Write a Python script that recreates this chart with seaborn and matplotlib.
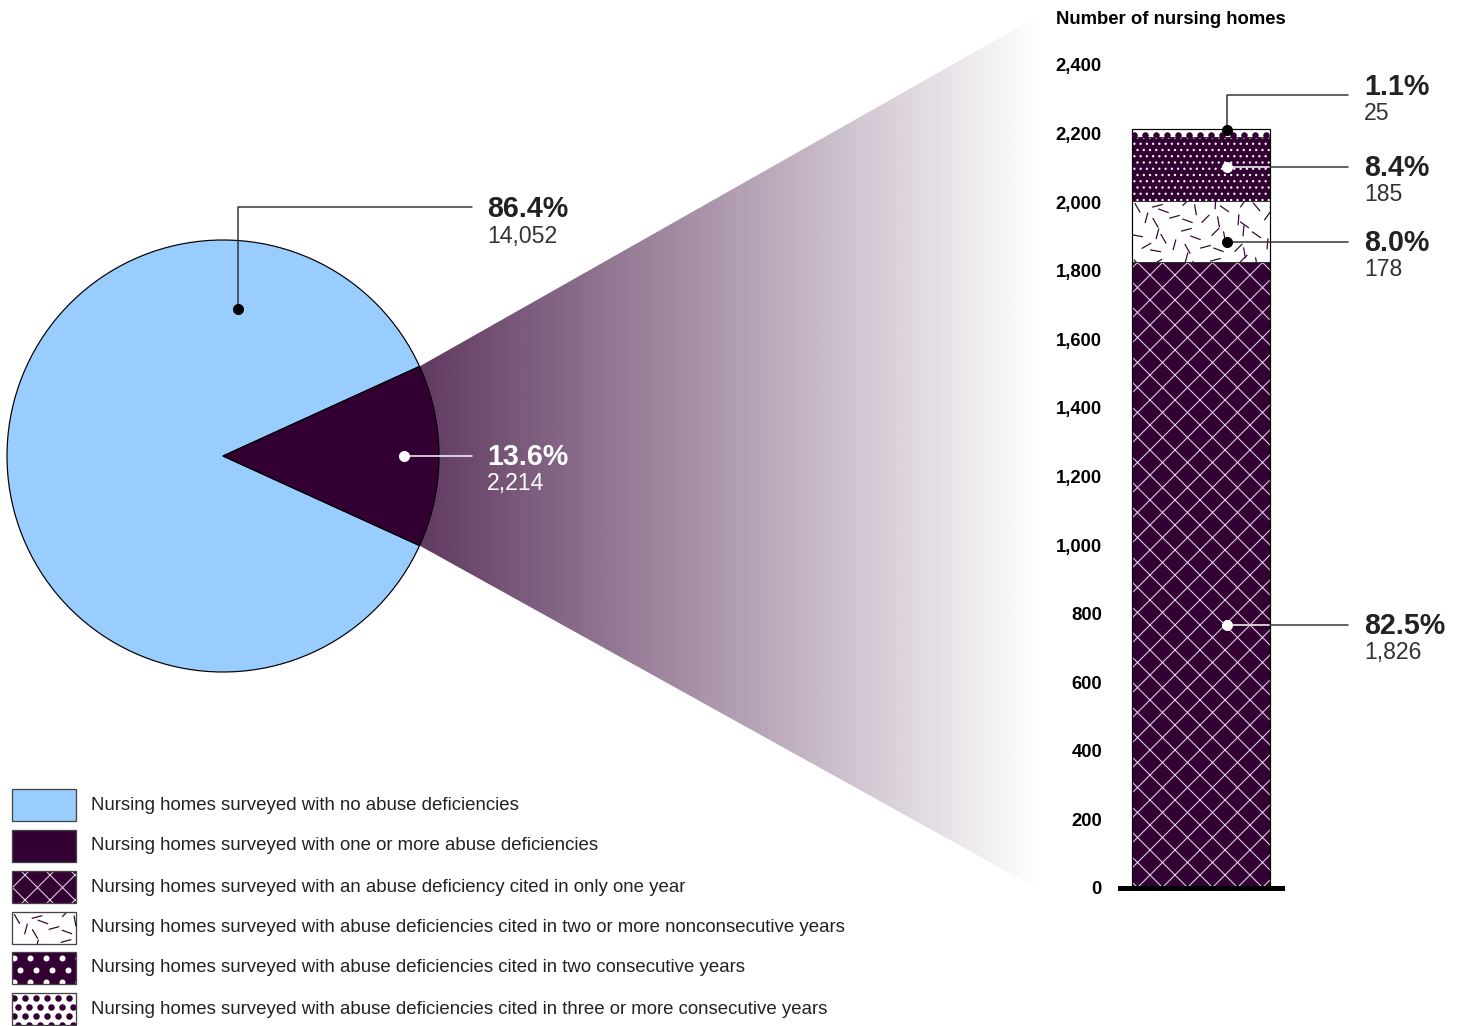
import numpy as np
import matplotlib
matplotlib.use("Agg")
import matplotlib.pyplot as plt
from matplotlib.patches import Rectangle, Polygon
from matplotlib.collections import LineCollection
import matplotlib.colors as mcolors
import seaborn as sns

# ---- data ----
pie_labels = ["no abuse deficiencies", "one or more abuse deficiencies"]
pie_counts = [14052, 2214]
pie_pcts = ["86.4%", "13.6%"]

bar_labels = ["only one year", "two or more nonconsecutive years",
              "two consecutive years", "three or more consecutive years"]
bar_counts = [1826, 178, 185, 25]
bar_pcts = ["82.5%", "8.0%", "8.4%", "1.1%"]

y_ticks = [0, 200, 400, 600, 800, 1000, 1200, 1400, 1600, 1800, 2000, 2200, 2400]
y_title = "Number of nursing homes"

legend_labels = [
    "Nursing homes surveyed with no abuse deficiencies",
    "Nursing homes surveyed with one or more abuse deficiencies",
    "Nursing homes surveyed with an abuse deficiency cited in only one year",
    "Nursing homes surveyed with abuse deficiencies cited in two or more nonconsecutive years",
    "Nursing homes surveyed with abuse deficiencies cited in two consecutive years",
    "Nursing homes surveyed with abuse deficiencies cited in three or more consecutive years",
]

LIGHT = "#99ccff"
DARK = "#330033"
TXT = "#222222"
HATCH = "#e4d6e4"

W, H, DPI = 1466, 1026, 75


def pt(px):
    return px * 72 / DPI


sns.set_style("white")
plt.rcParams["font.family"] = ["Liberation Sans", "DejaVu Sans"]
plt.rcParams["hatch.linewidth"] = 1.0

fig = plt.figure(figsize=(W / DPI, H / DPI), dpi=DPI)
# overlay axes in pixel coordinates (y down)
base = fig.add_axes([0, 0, 1, 1])
base.set_zorder(2)
base.axis("off")

# bar axes
bx = fig.add_axes([1120 / W, (H - 888) / H, 162 / W, 823 / H])
bx.set_zorder(1)

# bar segment styles: face, hatch colour, hatch
seg_styles = [(DARK, HATCH, "x"), ("white", DARK, None),
              (DARK, "white", ".."), ("white", DARK, None)]

bottom = 0
for cnt, (fc, ec, hatch) in zip(bar_counts, seg_styles):
    sns.barplot(x=[0], y=[cnt], bottom=bottom, color=fc, saturation=1,
                edgecolor=ec, hatch=hatch, linewidth=0, width=0.846,
                errorbar=None, ax=bx)
    bottom += cnt
total = bottom

bar_patches = list(bx.patches)
bx0 = bar_patches[0].get_x()
bw = bar_patches[0].get_width()
cum = np.cumsum([0] + bar_counts)
bx.hlines(cum[1:-1], bx0, bx0 + bw, color="#333333", lw=pt(1))
bx.add_patch(Rectangle((bx0, 0), bw, total, fill=False, edgecolor="black",
                       lw=pt(1.2), zorder=5))

bx.set_xlim(-0.5, 0.5)
bx.set_ylim(0, 2400)
bx.set_xticks([])
bx.set_yticks(y_ticks)
bx.set_yticklabels([f"{v:,}" for v in y_ticks], fontsize=pt(18.5),
                   fontweight="bold", color="black")
bx.tick_params(axis="y", length=0, pad=pt(18))
bx.set_xlabel("")
bx.set_ylabel("")
for s in ["left", "right", "top"]:
    bx.spines[s].set_visible(False)
bx.spines["bottom"].set_linewidth(pt(5))
bx.spines["bottom"].set_color("black")

base.text(1056, 20, y_title, fontsize=pt(18.5), fontweight="bold",
          color="black", va="center", ha="left")


def stroke_texture(clip_patch, x0, y0, x1, y1, color):
    # short scattered strokes, fixed layout
    angles = [60, 125, 20, 150, 80, 105, 35, 165, 50, 135, 10, 95]
    jit = [0, 4, -3, 2, -4, 3, -1, 5, -2, 1]
    segs = []
    step_x, step_y, ln = 15, 14, 5.5
    ny = int((y1 - y0) / step_y) + 2
    nx = int((x1 - x0) / step_x) + 2
    for j in range(ny):
        for i in range(nx):
            k = i * 7 + j * 5
            cx = x0 + 5 + i * step_x + jit[k % len(jit)] + (j % 2) * 6
            cy = y0 + 5 + j * step_y + jit[(k + 3) % len(jit)]
            a = np.deg2rad(angles[k % len(angles)])
            dx, dy = ln * np.cos(a), ln * np.sin(a)
            segs.append([(cx - dx, cy - dy), (cx + dx, cy + dy)])
    lc = LineCollection(segs, colors=color, linewidths=pt(1.2), zorder=4)
    base.add_collection(lc, autolim=False)
    lc.set_clip_path(clip_patch)


def dot_texture(clip_patch, x0, y0, x1, y1, color, step_x, step_y, diam, y_start=None):
    xs, ys = [], []
    yy = y0 + step_y / 2 if y_start is None else y_start
    row = 0
    while yy < y1 + diam:
        xx = x0 + (step_x / 2 if row % 2 else 2)
        while xx < x1 + diam:
            xs.append(xx)
            ys.append(yy)
            xx += step_x
        yy += step_y
        row += 1
    sc = base.scatter(xs, ys, s=pt(diam) ** 2, color=color, linewidths=0,
                      zorder=4)
    sc.set_clip_path(clip_patch)


def to_px(ax, x, y):
    dx, dy = ax.transData.transform((x, y))
    return dx, H - dy


# textures for nonconsecutive and three-consecutive segments
p = bar_patches[1]
bb = p.get_window_extent()
stroke_texture(p, bb.x0, H - bb.y1, bb.x1, H - bb.y0, DARK)
p = bar_patches[3]
bb = p.get_window_extent()
dot_texture(p, bb.x0, H - bb.y1, bb.x1, H - bb.y0, DARK, 11, 10, 6.5,
            y_start=H - bb.y1 + 6)

# ---- gradient fan ----
share = pie_counts[1] / sum(pie_counts)
half = np.deg2rad(180 * share)
cx, cy, R = 223, 456, 216
top_c = (cx + R * np.cos(half), cy - R * np.sin(half))
bot_c = (cx + R * np.cos(half), cy + R * np.sin(half))
fan = Polygon([top_c, (1040, 15), (1040, 890), bot_c], closed=True,
              facecolor="none", edgecolor="none")
base.add_patch(fan)
grad = np.zeros((2, 256, 4))
grad[..., :3] = mcolors.to_rgb(DARK)
grad[..., 3] = np.linspace(0.78, 0.0, 256)
im = base.imshow(grad, extent=(top_c[0] - 2, 1040, 890, 15), aspect="auto",
                 interpolation="bilinear", zorder=1)
im.set_clip_path(fan)

# ---- pie ----
wedges, _ = base.pie(pie_counts, colors=[LIGHT, DARK], startangle=180 * share,
                     center=(cx, cy), radius=R, frame=True,
                     wedgeprops=dict(edgecolor="black", linewidth=pt(1.2)))
for w in wedges:
    w.set_zorder(3)

# pie callouts
ms = pt(10)
base.plot([238, 238, 472], [309, 207, 207], color="#333333", lw=pt(1.5), zorder=4)
base.plot([238], [309], "o", color="black", ms=ms, zorder=5)
base.text(487, 207 + 10, pie_pcts[0], fontsize=pt(28.6), fontweight="bold",
          color=TXT, va="baseline")
base.text(487, 207 + 36, f"{pie_counts[0]:,}", fontsize=pt(23), color="#333333",
          va="baseline")
base.plot([404, 472], [456, 456], color="white", lw=pt(1.5), zorder=4)
base.plot([404], [456], "o", color="white", ms=ms, zorder=5)
base.text(487, 456 + 9, pie_pcts[1], fontsize=pt(28.6), fontweight="bold",
          color="white", va="baseline", zorder=5)
base.text(487, 456 + 34, f"{pie_counts[1]:,}", fontsize=pt(23), color="white",
          va="baseline", zorder=5)

# bar callouts
dot_frac = [0.42, 0.33, 0.54, 0.88]
dot_col = ["white", "black", "white", "black"]
dot_x = 0.16
bar_right = to_px(bx, bx0 + bw, 0)[0]
for i, (cnt, pc) in enumerate(zip(bar_counts, bar_pcts)):
    px, py = to_px(bx, dot_x, cum[i] + dot_frac[i] * cnt)
    if i == 3:
        ly = 95
        base.plot([px, px, 1348], [py, ly, ly], color="#333333", lw=pt(1.5), zorder=4)
        off = (0, 25)
    else:
        ly = py
        base.plot([px, 1348], [py, py], color="#333333", lw=pt(1.5), zorder=4)
        if dot_col[i] == "white":
            base.plot([px, bar_right - 1], [py, py], color="white", lw=pt(1.5), zorder=4)
        off = (9, 34)
    base.plot([px], [py], "o", color=dot_col[i], ms=ms, zorder=6)
    base.text(1364, ly + off[0], pc, fontsize=pt(28.6), fontweight="bold",
              color=TXT, va="baseline")
    base.text(1364, ly + off[1], f"{cnt:,}", fontsize=pt(23), color="#333333",
              va="baseline")

# ---- legend ----
leg_y = [805, 846, 887, 928, 968, 1009]
leg_styles = [(LIGHT, LIGHT, None), (DARK, DARK, None), (DARK, HATCH, "x"),
              ("white", DARK, None), (DARK, "white", None), ("white", DARK, None)]
for k, (lab, yc, (fc, ec, hatch)) in enumerate(zip(legend_labels, leg_y, leg_styles)):
    x0, y0, x1, y1 = 12, yc - 16, 76, yc + 16
    r = Rectangle((x0, y0), 64, 32, facecolor=fc, edgecolor=ec,
                  hatch=hatch, lw=0, zorder=3)
    base.add_patch(r)
    if k == 3:
        stroke_texture(r, x0, y0, x1, y1, DARK)
    elif k == 4:
        dot_texture(r, x0, y0, x1, y1, "white", 16, 12, 6)
    elif k == 5:
        dot_texture(r, x0, y0, x1, y1, DARK, 11, 9, 6.5)
    base.add_patch(Rectangle((x0, y0), 64, 32, fill=False,
                             edgecolor="#444444", lw=pt(1.3), zorder=5))
    base.text(91, yc, lab, fontsize=pt(18.6), color=TXT, va="center", ha="left")

base.set_aspect("auto")
base.set_xlim(0, W)
base.set_ylim(H, 0)
base.axis("off")

fig.savefig("out.png", dpi=DPI)
